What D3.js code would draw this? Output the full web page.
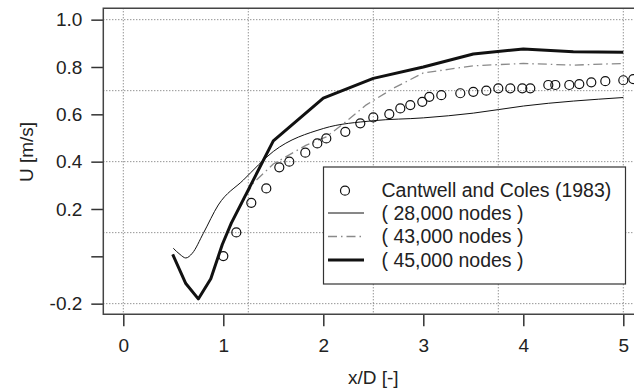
<!DOCTYPE html>
<html lang="en">
<head>
    <meta charset="UTF-8">
    <script src="https://cdn.jsdelivr.net/npm/d3@7/dist/d3.min.js"></script>
    <title>U vs x/D</title>
    <style>
        body { margin: 0; background: #fff; }
        text { font-family: "Liberation Sans", Arial, Helvetica, sans-serif; fill: #222; }
    </style>
</head>
<body>
<script>
    // experimental points (Cantwell and Coles 1983)
    let expX = [1.0, 1.13, 1.28, 1.43, 1.56, 1.66, 1.82, 1.94, 2.03, 2.22, 2.37, 2.5, 2.66, 2.77, 2.87,
        2.99, 3.06, 3.18, 3.37, 3.5, 3.63, 3.75, 3.87, 3.99, 4.07, 4.25, 4.32, 4.46, 4.56, 4.68, 4.82, 5.0, 5.1]
    let expU = [0.001, 0.101, 0.226, 0.287, 0.376, 0.40, 0.438, 0.477, 0.498, 0.526, 0.562, 0.587, 0.601, 0.625, 0.639,
        0.653, 0.674, 0.681, 0.689, 0.695, 0.70, 0.71, 0.71, 0.71, 0.71, 0.724, 0.724, 0.724, 0.728, 0.735, 0.74, 0.744, 0.749]

    // 28,000 nodes
    let x28 = [0.5, 0.567, 0.625, 0.69, 0.8, 0.95, 1.2, 1.5, 2.0, 2.5, 3.0, 3.5, 4.0, 5.0]
    let u28 = [0.034, 0.008, -0.007, 0.013, 0.097, 0.217, 0.322, 0.443, 0.54, 0.573, 0.585, 0.605, 0.635, 0.671]

    // 43,000 nodes
    let x43 = [0.494, 0.625, 0.75, 0.875, 0.99, 1.08, 1.3, 1.5, 1.83, 2.03, 2.2, 2.43, 2.7, 3.0, 3.25, 3.5, 4.0, 4.5, 5.0]
    let u43 = [0.008, -0.115, -0.18, -0.095, 0.05, 0.14, 0.31, 0.39, 0.47, 0.505, 0.56, 0.64, 0.71, 0.775, 0.79, 0.805, 0.815, 0.808, 0.815]

    // 45,000 nodes
    let x45 = [0.494, 0.625, 0.75, 0.875, 0.99, 1.08, 1.5, 2.0, 2.5, 3.0, 3.5, 4.0, 4.5, 5.0]
    let u45 = [0.008, -0.115, -0.18, -0.095, 0.05, 0.14, 0.488, 0.668, 0.752, 0.80, 0.855, 0.876, 0.864, 0.862]

    let xTicks = [0, 1, 2, 3, 4, 5]
    let yTicks = [-0.2, 0, 0.2, 0.4, 0.6, 0.8, 1.0]
    let xGrid = [0, 1.25, 2.5, 3.75, 5]
    let yGrid = [-0.2, 0.1, 0.4, 0.7, 1.0]

    let legendLabels = ["Cantwell and Coles (1983)", "( 28,000 nodes )", "( 43,000 nodes )", "( 45,000 nodes )"]

    const W = 634, H = 388
    const svg = d3.select("body").append("svg").attr("width", W).attr("height", H)

    const x = d3.scaleLinear().domain([-0.2, 5.107]).range([103.3, 634])
    const y = d3.scaleLinear().domain([-0.245, 1.048]).range([314.3, 8.3])

    // dotted grid
    svg.append("g").selectAll("line").data(xGrid).join("line")
        .attr("x1", d => x(d)).attr("x2", d => x(d))
        .attr("y1", y.range()[1]).attr("y2", y.range()[0])
        .attr("stroke", "#666").attr("stroke-width", 1).attr("stroke-dasharray", "1,2")
    svg.append("g").selectAll("line").data(yGrid).join("line")
        .attr("x1", x.range()[0]).attr("x2", x.range()[1])
        .attr("y1", d => y(d)).attr("y2", d => y(d))
        .attr("stroke", "#666").attr("stroke-width", 1).attr("stroke-dasharray", "1,2")

    // axes, plain hyphen for the minus sign like the original
    const xAxis = svg.append("g").attr("transform", "translate(0," + y.range()[0] + ")")
        .call(d3.axisBottom(x).tickValues(xTicks).tickSize(12).tickPadding(12).tickFormat(d3.format("d")))
    const yAxis = svg.append("g").attr("transform", "translate(" + x.range()[0] + ",0)")
        .call(d3.axisLeft(y).tickValues(yTicks).tickSize(12).tickPadding(9)
            .tickFormat(d => d === 0 ? "" : d3.format(".1f")(d).replace("\u2212", "-")))
    for (const a of [xAxis, yAxis]) {
        a.select(".domain").remove()
        a.selectAll(".tick line").attr("stroke", "#333").attr("stroke-width", 1.5)
        a.selectAll(".tick text").style("font-size", "19px").attr("fill", "#222")
            .style("font-family", "'Liberation Sans', Arial, sans-serif")
    }

    // frame (left, bottom, top)
    svg.append("path")
        .attr("d", "M" + W + "," + y.range()[1] + "H" + x.range()[0] + "V" + y.range()[0] + "H" + W)
        .attr("fill", "none").attr("stroke", "#444").attr("stroke-width", 1.5)

    // axis titles
    svg.append("text").attr("x", x(2.5)).attr("y", 384).attr("text-anchor", "middle")
        .style("font-size", "19px").text("x/D [-]")
    svg.append("text").attr("transform", "translate(33,152) rotate(-90)").attr("text-anchor", "middle")
        .style("font-size", "19px").text("U [m/s]")

    const line = d3.line().x(d => x(d[0])).y(d => y(d[1]))
    const smooth = d3.line().x(d => x(d[0])).y(d => y(d[1])).curve(d3.curveMonotoneX)
    let pts = (xs, us) => xs.map((v, i) => [v, us[i]])

    const styles = [
        {stroke: "#111", width: 1, dash: null, gen: smooth},
        {stroke: "#8a8a8a", width: 1.3, dash: "9,4,1.5,4", gen: line},
        {stroke: "#111", width: 3, dash: null, gen: line}
    ]
    let series = [pts(x28, u28), pts(x43, u43), pts(x45, u45)]

    const plot = svg.append("g")
    series.forEach((s, i) => {
        plot.append("path").datum(s).attr("d", styles[i].gen)
            .attr("fill", "none").attr("stroke", styles[i].stroke)
            .attr("stroke-width", styles[i].width)
            .attr("stroke-dasharray", styles[i].dash)
            .attr("stroke-linejoin", "round")
    })
    plot.selectAll("circle").data(pts(expX, expU)).join("circle")
        .attr("cx", d => x(d[0])).attr("cy", d => y(d[1])).attr("r", 4.5)
        .attr("fill", "none").attr("stroke", "#111").attr("stroke-width", 1.2)

    // legend
    const lg = svg.append("g")
    lg.append("rect").attr("x", 323.5).attr("y", 167).attr("width", 302).attr("height", 117)
        .attr("fill", "#fff").attr("stroke", "#333").attr("stroke-width", 1.2)
    let rowY = [190.7, 213, 236.5, 260]
    lg.append("circle").attr("cx", 345).attr("cy", rowY[0]).attr("r", 4.5)
        .attr("fill", "none").attr("stroke", "#111").attr("stroke-width", 1.2)
    for (let i = 0; i < 3; i++) {
        lg.append("line").attr("x1", 328).attr("x2", 364).attr("y1", rowY[i + 1]).attr("y2", rowY[i + 1])
            .attr("stroke", styles[i].stroke).attr("stroke-width", styles[i].width)
            .attr("stroke-dasharray", styles[i].dash)
    }
    lg.selectAll("text").data(legendLabels).join("text")
        .attr("x", 381.5).attr("y", (d, i) => rowY[i] + 6.5)
        .style("font-size", "19.5px").text(d => d)
</script>
</body>
</html>
